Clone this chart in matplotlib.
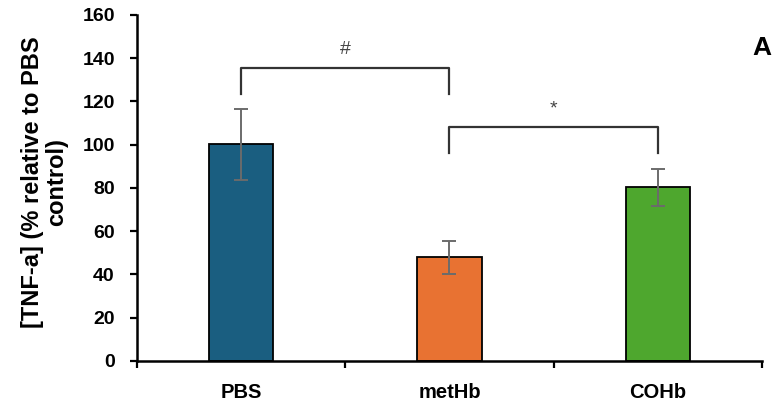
import numpy as np
import matplotlib.pyplot as plt

plt.rcParams['font.family'] = ['Liberation Sans', 'DejaVu Sans']

groups = ['PBS', 'metHb', 'COHb']
means = [100.2, 47.9, 80.4]
errs = [16.3, 7.6, 8.6]
colors = ['#1a5e80', '#e87232', '#4ea72e']

# significance brackets: (left idx, right idx, bar height, leg bottom, label)
brackets = [(0, 1, 135.6, 123.5, '#'), (1, 2, 108.3, 96.3, '*')]

fig = plt.figure(figsize=(7.78, 4.12), dpi=100)
ax = fig.add_axes([0.1761, 0.1238, 0.8033, 0.8398])

x = np.arange(len(groups))
ax.bar(x, means, width=0.31, color=colors, edgecolor='black', linewidth=1.3, zorder=2)
ax.errorbar(x, means, yerr=errs, fmt='none', ecolor='#6b6b6b', elinewidth=1.4,
            capsize=5, capthick=1.4, zorder=3)

for l, r, h, b, lab in brackets:
    ax.plot([l, l, r, r], [b, h, h, b], color='#333333', lw=1.6, zorder=3)
    ax.text((l + r) / 2, h + 4.5, lab, ha='center', va='bottom', fontsize=14, color='#444444')

ax.text(762 / 778, 1 - 48 / 412, 'A', transform=fig.transFigure, fontsize=19,
        fontweight='bold', ha='center', va='center')

ax.set_xlim(-0.5, 2.5)
ax.set_ylim(0, 160)
ax.set_yticks(np.arange(0, 161, 20))
ax.set_xticks([-0.5, 0.5, 1.5, 2.5])
ax.set_xticklabels([])
ax.set_xticks(x, minor=True)
ax.set_xticklabels(groups, minor=True)
ax.tick_params(axis='x', which='minor', length=0, pad=16, labelsize=14.5)
ax.tick_params(axis='x', which='major', length=5, width=1.6, direction='out')
ax.tick_params(axis='y', length=5, width=1.6, labelsize=14, pad=11)
for lab in ax.get_xticklabels(minor=True) + ax.get_yticklabels():
    lab.set_fontweight('bold')

for s in ['top', 'right']:
    ax.spines[s].set_visible(False)
for s in ['left', 'bottom']:
    ax.spines[s].set_linewidth(1.8)

ax.set_ylabel('[TNF-a] (% relative to PBS\ncontrol)', fontsize=17, fontweight='bold',
              linespacing=1.1, labelpad=10)
ax.yaxis.label.set_y(0.516)

fig.savefig('out.png', dpi=100)
